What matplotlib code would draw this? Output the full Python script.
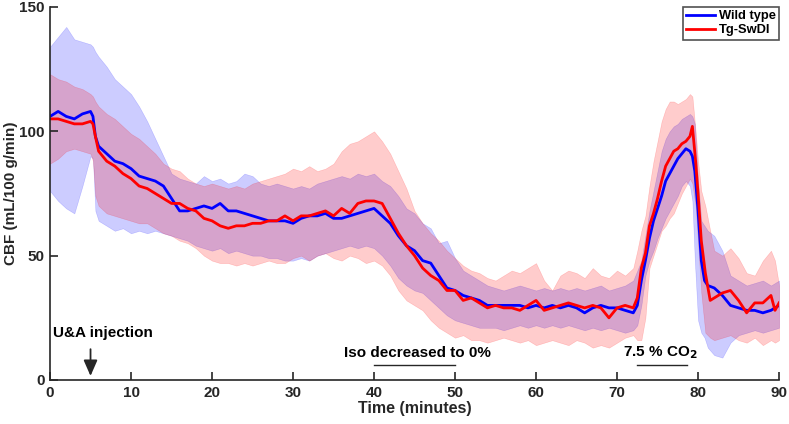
import matplotlib
matplotlib.use("Agg")
import matplotlib.pyplot as plt

plt.rcParams["font.family"] = ["Liberation Sans", "DejaVu Sans"]
plt.rcParams["font.weight"] = "bold"

# ---- data (minutes, mL/100 g/min) ----
wt_t = [0, 1, 2, 3, 4, 5, 5.3, 5.6] + list(range(6, 72)) + [
    72, 72.5, 73, 73.5, 74, 74.5, 75, 75.5, 76, 76.5, 77, 77.5, 78, 78.5, 79,
    79.3, 79.6, 80, 80.4, 80.8, 81.2, 82, 83, 84, 85, 86, 87, 88, 89, 90]

wt_mean = [106, 108, 106, 105, 107, 108, 106, 98,
           94, 91, 88, 87, 85, 82, 81, 80, 78, 73, 68, 68, 69, 70, 69, 71, 68,
           68, 67, 66, 65, 64, 64, 64, 63, 65, 66, 66, 67, 65, 65, 66, 67, 68,
           69, 66, 63, 58, 54, 52, 48, 47, 42, 37, 36, 34, 33, 32, 30, 30, 30,
           30, 30, 29, 30, 29, 30, 29, 30, 29, 27, 29, 30, 29, 29, 28, 27,
           30, 40, 48, 57, 64, 69, 74, 80, 83, 86, 89, 91, 93, 92,
           90, 84, 68, 48, 40, 38, 37, 34, 30, 29, 28, 28, 27, 28, 30]

wt_hi = [134, 138, 142, 137, 136, 135, 134, 132,
         130, 126, 121, 118, 115, 110, 104, 97, 90, 83, 81, 80, 79, 82, 80, 81,
         79, 80, 83, 82, 79, 78, 79, 78, 77, 78, 77, 79, 80, 81, 82, 81, 83,
         82, 83, 80, 78, 74, 69, 67, 63, 61, 55, 56, 49, 44, 42, 40, 38, 37,
         36, 37, 38, 37, 36, 37, 36, 37, 36, 37, 36, 37, 38, 36, 37, 38, 40,
         44, 48, 58, 68, 76, 84, 92, 97, 100, 102, 103, 105, 106, 107,
         106, 103, 80, 64, 62, 60, 58, 52, 42, 40, 38, 39, 40, 38, 40]

wt_lo = [76, 72, 69, 67, 78, 90, 89, 68,
         64, 62, 60, 61, 59, 60, 59, 60, 59, 58, 57, 56, 54, 53, 52, 53, 51,
         52, 51, 50, 50, 49, 49, 48, 48, 49, 48, 50, 51, 52, 53, 54, 53, 54,
         53, 50, 46, 41, 38, 36, 35, 32, 29, 26, 24, 23, 22, 21, 21, 21, 20,
         21, 22, 21, 22, 21, 22, 21, 22, 21, 20, 21, 20, 21, 20, 19, 20,
         22, 30, 42, 48, 52, 57, 61, 65, 68, 71, 74, 78, 80, 78,
         72, 48, 24, 19, 17, 13, 10, 9, 15, 18, 19, 20, 19, 20, 21]

tg_t = [0, 1, 2, 3, 4, 5, 5.3, 5.6] + list(range(6, 72)) + [
    72, 72.5, 73, 73.5, 74, 74.5, 75, 75.5, 76, 76.5, 77, 77.5, 78, 78.5, 79,
    79.3, 79.7, 80, 80.4, 80.9, 81.5, 82, 83, 84, 85, 86, 87, 88, 89, 89.5, 90]

tg_mean = [105, 105, 104, 103, 103, 104, 103, 98,
           92, 88, 86, 83, 81, 78, 77, 75, 73, 71, 71, 69, 68, 65, 64, 62, 61,
           62, 62, 63, 63, 64, 64, 66, 64, 66, 66, 67, 68, 66, 69, 67, 71, 72,
           72, 71, 65, 59, 54, 50, 45, 42, 40, 36, 36, 32, 33, 31, 29, 30, 29,
           29, 28, 30, 32, 28, 29, 30, 31, 30, 29, 30, 29, 25, 29, 30, 29,
           33, 45, 51, 62, 67, 73, 80, 86, 89, 92, 93, 95, 96, 98,
           102, 88, 75, 56, 43, 32, 33, 35, 36, 32, 27, 31, 31, 34, 28, 31]

tg_hi = [123, 121, 120, 118, 117, 115, 114, 112,
         110, 107, 105, 102, 99, 97, 94, 91, 87, 85, 84, 81, 79, 78, 79, 78,
         77, 78, 77, 79, 80, 81, 82, 83, 85, 84, 86, 84, 85, 87, 92, 95, 96,
         98, 100, 96, 91, 84, 77, 68, 63, 59, 56, 52, 49, 46, 44, 43, 41, 40,
         42, 44, 43, 45, 47, 40, 36, 42, 44, 43, 41, 45, 42, 41, 44, 42, 45,
         52, 60, 66, 78, 88, 96, 104, 109, 112, 112, 111, 112, 113, 115,
         114, 100, 88, 76, 70, 60, 52, 50, 53, 49, 43, 42, 48, 52, 48, 38]

tg_lo = [87, 89, 92, 93, 92, 91, 88, 74,
         70, 67, 66, 65, 64, 63, 63, 61, 59, 58, 56, 55, 53, 50, 48, 47, 47,
         46, 47, 46, 47, 48, 47, 47, 49, 50, 48, 50, 51, 49, 48, 50, 49, 47,
         48, 46, 42, 36, 32, 30, 28, 24, 21, 19, 17, 18, 16, 16, 15, 16, 17,
         16, 15, 16, 14, 15, 16, 15, 14, 16, 15, 13, 14, 13, 15, 17, 18,
         16, 16, 25, 45, 50, 55, 60, 62, 65, 67, 71, 75, 78, 81,
         79, 70, 55, 35, 19, 17, 16, 17, 18, 16, 15, 17, 14, 16, 15, 16]

x_ticks = [0, 10, 20, 30, 40, 50, 60, 70, 80, 90]
y_ticks = [0, 50, 100, 150]

INK = "#262626"

fig = plt.figure(figsize=(7.89, 4.24), dpi=100)
ax = fig.add_axes([0.0634, 0.1038, 0.924, 0.8797])

# wild type first, then the Tg band over it (tints the blue line like the original)
ax.fill_between(wt_t, wt_lo, wt_hi, color="blue", alpha=0.2, linewidth=0.4,
                edgecolor=(0, 0, 1, 0.25))
ax.plot(wt_t, wt_mean, color="blue", lw=2, label="Wild type")
ax.fill_between(tg_t, tg_lo, tg_hi, color="red", alpha=0.2, linewidth=0.4,
                edgecolor=(1, 0, 0, 0.25))
ax.plot(tg_t, tg_mean, color="red", lw=2, label="Tg-SwDI")

ax.set_xlim(0, 90)
ax.set_ylim(0, 150)
ax.set_xticks(x_ticks)
ax.set_yticks(y_ticks)
ax.tick_params(direction="in", length=6, width=1.2, labelsize=11,
               colors=INK, pad=4)
for lab in ax.get_xticklabels() + ax.get_yticklabels():
    lab.set_fontweight("bold")
for side in ["top", "right"]:
    ax.spines[side].set_visible(False)
for side in ["left", "bottom"]:
    ax.spines[side].set_linewidth(1.2)
    ax.spines[side].set_color(INK)

ax.set_xlabel("Time (minutes)", fontsize=11.5, fontweight="bold", labelpad=1,
              color=INK)
ax.set_ylabel("CBF (mL/100 g/min)", fontsize=11, fontweight="bold", labelpad=1,
              color=INK)

# annotations
ax.text(0.4, 19, "U&A injection", fontsize=11, fontweight="bold", va="center")
ax.annotate("", xy=(5, 0.5), xytext=(5, 13.5),
            arrowprops=dict(arrowstyle="-|>,head_length=0.8,head_width=0.35",
                            color=INK, lw=1.3, mutation_scale=12))
ax.text(45.4, 10.8, "Iso decreased to 0%", fontsize=11, fontweight="bold",
        ha="center", va="center")
ax.plot([40, 50], [6, 6], color=INK, lw=1)
ax.text(75.4, 10.8, "7.5 % CO$_\\mathbf{2}$", fontsize=11, fontweight="bold",
        ha="center", va="center")
ax.plot([72.5, 78.6], [6, 6], color=INK, lw=1)

leg = ax.legend(loc="upper right", bbox_to_anchor=(1.005, 1.01), fontsize=9.3,
                frameon=True, fancybox=False, edgecolor=INK,
                handlelength=2.2, handletextpad=0.3, borderpad=0.25,
                labelspacing=0.15, borderaxespad=0.3)
leg.get_frame().set_linewidth(1.2)
for t in leg.get_texts():
    t.set_fontweight("bold")

fig.savefig("out.png", dpi=100)
